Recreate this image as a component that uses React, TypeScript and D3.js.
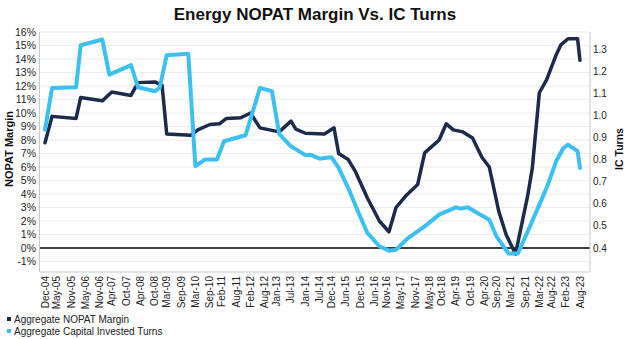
import React from "react";
import * as d3 from "d3";

const tickLabels = [
  "Dec-04","May-05","Nov-05","May-06","Nov-06","Apr-07","Oct-07","Apr-08","Oct-08","Mar-09",
  "Sep-09","Mar-10","Sep-10","Feb-11","Aug-11","Feb-12","Aug-12","Jan-13","Jul-13","Jan-14",
  "Jul-14","Dec-14","Jun-15","Dec-15","Jun-16","Nov-16","May-17","Nov-17","May-18","Oct-18",
  "Apr-19","Oct-19","Apr-20","Sep-20","Mar-21","Sep-21","Mar-22","Aug-22","Feb-23","Aug-23",
];

const marginDates = [
  "2004-12","2005-03","2006-01","2006-03","2006-12","2007-04","2007-12","2008-03","2008-10","2009-01",
  "2009-03","2010-01","2010-04","2010-09","2011-01","2011-04","2011-10","2012-02","2012-06","2012-10",
  "2013-02","2013-07","2013-09","2014-01","2014-09","2015-01","2015-03","2015-07","2015-10","2016-03",
  "2016-08","2016-12","2017-03","2017-07","2017-12","2018-03","2018-09","2018-12","2019-03","2019-07",
  "2019-11","2020-01","2020-03","2020-06","2020-10","2021-01","2021-05","2021-10","2021-12","2022-03",
  "2022-06","2022-10","2022-12","2023-03","2023-07","2023-08",
];
const marginValues = [
  7.8, 9.75, 9.6, 11.15, 10.9, 11.55, 11.3, 12.25, 12.3, 12.05,
  8.45, 8.35, 8.75, 9.15, 9.2, 9.6, 9.65, 10.0, 8.9, 8.75,
  8.6, 9.4, 8.8, 8.5, 8.45, 8.9, 7.0, 6.55, 5.65, 3.7,
  2.0, 1.2, 3.0, 3.85, 4.7, 7.05, 8.0, 9.2, 8.75, 8.6,
  8.15, 7.4, 6.7, 6.0, 2.7, 1.0, -0.45, 3.8, 5.9, 11.5,
  12.45, 14.3, 15.05, 15.5, 15.5, 13.9,
];

const turnsDates = [
  "2004-12","2005-03","2006-01","2006-03","2006-12","2007-03","2007-12","2008-03","2008-10","2008-12",
  "2009-03","2009-12","2010-03","2010-07","2010-12","2011-03","2011-12","2012-06","2012-11","2013-02",
  "2013-07","2014-01","2014-03","2014-07","2014-09","2014-12","2015-03","2015-07","2015-11","2016-03",
  "2016-08","2016-12","2017-03","2017-08","2018-03","2018-09","2019-04","2019-06","2019-09","2020-01",
  "2020-06","2020-09","2021-02","2021-06","2021-11","2022-06","2022-10","2023-01","2023-03","2023-07",
  "2023-08",
];
const turnsValues = [
  0.935, 1.124, 1.127, 1.317, 1.343, 1.184, 1.227, 1.127, 1.109, 1.124,
  1.272, 1.278, 0.77, 0.8, 0.8, 0.883, 0.91, 1.124, 1.109, 0.916,
  0.86, 0.82, 0.822, 0.804, 0.807, 0.81, 0.762, 0.671, 0.566, 0.468,
  0.408, 0.388, 0.392, 0.445, 0.498, 0.551, 0.584, 0.578, 0.584, 0.558,
  0.528, 0.453, 0.375, 0.375, 0.498, 0.671, 0.792, 0.852, 0.867, 0.838,
  0.762,
];

const leftTicks = d3.range(-1, 17);
const rightTicks = d3.range(4, 14).map((v) => v / 10);

const W = 630, H = 339;
const plot = { left: 39.5, right: 590, top: 32, bottom: 272 };
const DARK = "#1c2b4b";
const LIGHT = "#3dc0f1";
const FONT = "'Liberation Sans', Arial, sans-serif";

export default function App() {
  const pm = d3.timeParse("%Y-%m");
  const pl = d3.timeParse("%b-%y");
  const x = d3.scaleTime().domain([pm("2004-12")!, pm("2023-08")!]).range([45, 580]);
  const yL = d3.scaleLinear().domain([0, 16]).range([248, 32]);
  const yR = d3.scaleLinear().domain([0.4, 1.3]).range([248, 49]);

  const mData = marginDates.map((d, i) => ({ d: pm(d)!, v: marginValues[i] }));
  const tData = turnsDates.map((d, i) => ({ d: pm(d)!, v: turnsValues[i] }));
  const lineL = d3.line<{ d: Date; v: number }>().x((p) => x(p.d)).y((p) => yL(p.v));
  const lineR = d3.line<{ d: Date; v: number }>().x((p) => x(p.d)).y((p) => yR(p.v));

  return (
    <svg width={W} height={H} style={{ position: "absolute", left: 0, top: 0, background: "#fff" }} fontFamily={FONT}>
      <text x={315} y={20} textAnchor="middle" fontSize={17} fontWeight="bold" fill="#111">
        Energy NOPAT Margin Vs. IC Turns
      </text>
      {leftTicks.map((t) => (
        <line key={"g" + t} x1={plot.left} x2={plot.right} y1={yL(t)} y2={yL(t)} stroke="#ececec" strokeWidth={1} />
      ))}
      <line x1={plot.left} x2={plot.right} y1={yL(0)} y2={yL(0)} stroke="#000" strokeWidth={1.5} />
      <line x1={plot.left} x2={plot.left} y1={plot.top} y2={plot.bottom} stroke="#c8c8c8" />
      <line x1={plot.right} x2={plot.right} y1={plot.top} y2={plot.bottom} stroke="#c8c8c8" />
      <line x1={plot.left} x2={plot.right} y1={plot.bottom} y2={plot.bottom} stroke="#c8c8c8" />
      {leftTicks.map((t) => (
        <text key={"l" + t} x={36} y={yL(t)} dy="0.35em" textAnchor="end" fontSize={10.5} fill="#222">
          {t + "%"}
        </text>
      ))}
      {rightTicks.map((t) => (
        <text key={"r" + t} x={593} y={yR(t)} dy="0.35em" textAnchor="start" fontSize={10} fill="#222">
          {t.toFixed(1)}
        </text>
      ))}
      {tickLabels.map((s) => {
        const px = x(pl(s)!);
        return (
          <text key={s} transform={`translate(${px + 3.5},276) rotate(-90)`} textAnchor="end" fontSize={10} fill="#222">
            {s}
          </text>
        );
      })}
      <text transform="translate(13,149) rotate(-90)" textAnchor="middle" fontSize={11} fontWeight="bold" fill="#111">
        NOPAT Margin
      </text>
      <text transform="translate(623,149) rotate(-90)" textAnchor="middle" fontSize={10.5} fontWeight="bold" fill="#111">
        IC Turns
      </text>
      <path d={lineL(mData)!} fill="none" stroke={DARK} strokeWidth={3.5} strokeLinejoin="round" strokeLinecap="round" />
      <path d={lineR(tData)!} fill="none" stroke={LIGHT} strokeWidth={4} strokeLinejoin="round" strokeLinecap="round" />
      <rect x={7} y={317} width={4} height={4} fill={DARK} />
      <text x={14} y={322.5} fontSize={10} fill="#222">Aggregate NOPAT Margin</text>
      <rect x={7} y={329} width={4} height={4} fill={LIGHT} />
      <text x={14} y={334.5} fontSize={10} fill="#222">Aggregate Capital Invested Turns</text>
    </svg>
  );
}
